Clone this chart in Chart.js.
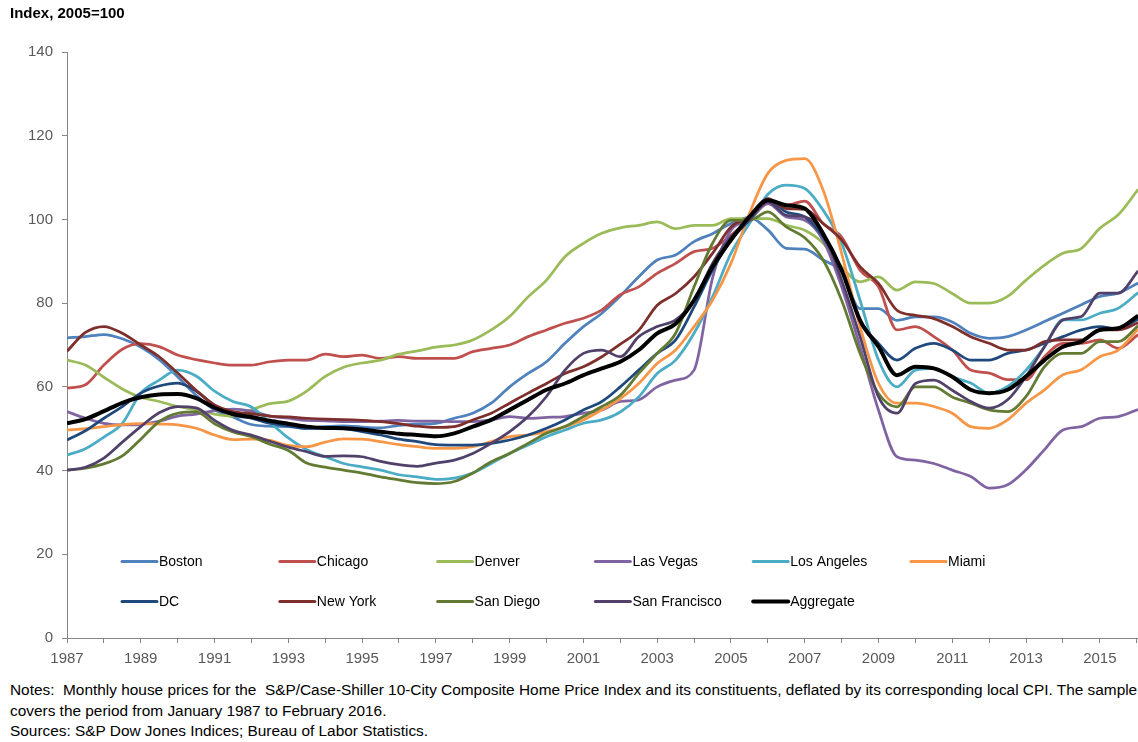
<!DOCTYPE html>
<html>
<head>
<meta charset="utf-8">
<script src="https://cdn.jsdelivr.net/npm/chart.js@4.4.1/dist/chart.umd.min.js"></script>
<style>
  html, body { margin: 0; padding: 0; background: #fff; overflow: hidden; }
  body { width: 1138px; height: 742px; position: relative; font-family: "Liberation Sans", Arial, sans-serif; }
  #wrap { position: absolute; left: 0; top: 0; width: 1138px; height: 680px; }
  #title { position: absolute; left: 10px; top: 4px; font-size: 15px; font-weight: bold; color: #000; }
  #notes { position: absolute; left: 10px; top: 680px; font-size: 15.4px; line-height: 20.5px; color: #000; white-space: nowrap; }
</style>
</head>
<body>
<div id="wrap"><canvas id="chart"></canvas></div>
<div id="title">Index, 2005=100</div>
<div id="notes">
  <div>Notes:&nbsp; Monthly house prices for the&nbsp; S&amp;P/Case-Shiller 10-City Composite Home Price Index and its constituents, deflated by its corresponding local CPI. The sample</div>
  <div>covers the period from January 1987 to February 2016.</div>
  <div>Sources: S&amp;P Dow Jones Indices; Bureau of Labor Statistics.</div>
</div>
<script>
// --- Dados (amostras semestrais) ---
const dates = [1987, 1987.5, 1988, 1988.5, 1989, 1989.5, 1990, 1990.5, 1991, 1991.5,
  1992, 1992.5, 1993, 1993.5, 1994, 1994.5, 1995, 1995.5, 1996, 1996.5,
  1997, 1997.5, 1998, 1998.5, 1999, 1999.5, 2000, 2000.5, 2001, 2001.5,
  2002, 2002.5, 2003, 2003.5, 2004, 2004.5, 2005, 2005.5, 2006, 2006.5,
  2007, 2007.5, 2008, 2008.5, 2009, 2009.5, 2010, 2010.5, 2011, 2011.5,
  2012, 2012.5, 2013, 2013.5, 2014, 2014.5, 2015, 2015.5, 2016.04];

const boston = [71.7, 72.0, 72.5, 71.5, 69.5, 66.5, 62.4, 58.0, 54.5, 52.8,
  51.0, 50.6, 50.5, 50.1, 50.5, 50.7, 50.4, 50.2, 50.8, 51.1,
  51.3, 52.5, 53.7, 56.1, 60.0, 63.2, 66.0, 70.4, 74.4, 77.6,
  81.7, 86.3, 90.3, 91.5, 94.7, 96.6, 99.0, 100.5, 97.5, 93.1,
  92.9, 90.3, 87.5, 78.7, 78.7, 75.9, 76.7, 76.7, 75.5, 72.8,
  71.6, 72.0, 73.6, 75.6, 77.6, 79.6, 81.6, 82.4, 84.8];
const chicago = [59.7, 60.5, 65.2, 69.0, 70.3, 69.6, 67.6, 66.5, 65.7, 65.2,
  65.2, 66.0, 66.4, 66.4, 67.8, 67.2, 67.6, 66.8, 67.2, 66.8,
  66.8, 66.8, 68.4, 69.2, 70.0, 72.0, 73.6, 75.2, 76.4, 78.4,
  82.0, 83.9, 87.1, 89.5, 92.3, 93.1, 96.2, 100.2, 103.8, 103.4,
  104.4, 99.0, 95.8, 87.9, 83.9, 73.6, 74.4, 72.0, 68.8, 64.0,
  63.3, 61.7, 61.7, 67.2, 70.4, 70.4, 71.2, 69.2, 72.5];
const denver = [66.4, 65.2, 62.3, 59.5, 57.5, 56.5, 55.3, 54.5, 53.5, 53.0,
  54.5, 56.0, 56.6, 59.0, 62.5, 64.7, 65.7, 66.4, 67.8, 68.6,
  69.5, 70.0, 71.2, 73.6, 76.8, 81.5, 85.5, 91.1, 94.3, 96.7,
  98.0, 98.6, 99.4, 97.8, 98.6, 98.6, 100.2, 100.2, 100.2, 98.6,
  97.4, 94.3, 88.7, 85.1, 86.3, 83.1, 85.1, 84.7, 82.3, 80.0,
  80.0, 81.6, 85.5, 89.1, 91.9, 93.1, 97.9, 101.1, 107.2];
const lasVegas = [54.1, 52.5, 51.3, 50.9, 51.0, 51.8, 53.0, 53.5, 54.3, 54.7,
  54.2, 53.0, 52.5, 52.0, 51.9, 51.7, 51.7, 51.8, 52.0, 51.8,
  51.8, 51.7, 51.7, 52.1, 52.9, 52.5, 52.7, 52.9, 53.7, 54.5,
  56.5, 56.9, 60.0, 61.6, 64.0, 86.0, 97.4, 99.8, 103.8, 100.6,
  99.8, 95.0, 83.9, 69.6, 54.4, 43.3, 42.5, 41.7, 40.1, 38.6,
  35.8, 36.6, 40.2, 45.0, 49.7, 50.5, 52.5, 52.9, 54.6];
const losAngeles = [43.7, 45.2, 48.0, 51.3, 58.5, 61.6, 64.0, 62.6, 59.0, 56.5,
  55.2, 51.5, 47.8, 45.0, 43.3, 41.7, 40.9, 40.1, 39.0, 38.5,
  37.9, 38.2, 39.4, 41.7, 44.1, 46.1, 48.1, 49.7, 51.3, 52.1,
  54.0, 57.6, 63.2, 66.4, 72.8, 81.5, 91.9, 99.0, 106.0, 108.2,
  107.4, 102.2, 94.3, 80.7, 66.4, 60.0, 64.0, 64.4, 62.4, 60.9,
  58.5, 60.1, 64.0, 69.6, 76.0, 76.0, 77.6, 78.8, 82.5];
const miami = [49.7, 50.0, 50.5, 51.0, 51.2, 51.1, 50.9, 50.1, 48.5, 47.4,
  47.5, 47.2, 46.0, 45.7, 46.8, 47.6, 47.5, 46.9, 46.2, 45.7,
  45.3, 45.3, 45.7, 46.9, 48.1, 48.5, 49.3, 50.5, 52.1, 54.5,
  57.2, 60.8, 65.6, 68.8, 74.4, 80.7, 89.5, 101.4, 111.0, 114.1,
  114.5, 107.0, 91.9, 74.4, 60.8, 56.1, 56.1, 55.3, 53.7, 50.5,
  50.1, 52.1, 56.1, 59.3, 62.9, 64.1, 67.2, 68.8, 73.8];
const dc = [47.3, 49.5, 52.5, 55.3, 58.5, 60.2, 60.9, 59.0, 55.5, 53.3,
  52.5, 51.3, 50.7, 50.1, 50.1, 50.0, 49.3, 48.5, 47.5, 46.9,
  46.2, 46.1, 46.1, 46.5, 47.3, 48.5, 50.1, 52.1, 54.5, 56.5,
  60.0, 64.0, 68.0, 71.2, 79.1, 87.9, 95.1, 99.8, 104.6, 101.8,
  100.6, 95.8, 87.9, 75.9, 70.4, 66.4, 69.2, 70.4, 68.8, 66.4,
  66.4, 68.0, 68.8, 70.4, 72.0, 73.6, 74.4, 73.8, 76.2];
const newYork = [68.5, 73.0, 74.4, 72.8, 70.0, 67.2, 63.3, 59.2, 55.7, 54.1,
  53.6, 53.0, 52.8, 52.5, 52.3, 52.2, 52.0, 51.7, 51.2, 50.6,
  50.3, 50.5, 52.1, 53.7, 56.1, 58.5, 60.8, 63.2, 64.8, 67.2,
  70.2, 73.5, 79.5, 82.3, 86.3, 91.9, 98.2, 100.6, 105.0, 102.6,
  102.4, 99.0, 95.1, 88.7, 84.7, 78.3, 77.1, 76.3, 74.4, 72.0,
  70.4, 68.8, 68.8, 70.8, 71.2, 71.2, 73.6, 73.6, 75.3];
const sanDiego = [40.1, 40.6, 41.6, 43.5, 47.5, 51.7, 53.7, 54.0, 51.2, 49.2,
  48.1, 46.3, 44.8, 41.8, 40.8, 40.1, 39.4, 38.5, 37.8, 37.1,
  36.9, 37.4, 39.4, 42.1, 44.1, 46.5, 48.9, 50.5, 52.9, 55.3,
  58.0, 63.2, 68.0, 72.8, 83.9, 94.3, 99.8, 99.8, 101.8, 98.2,
  95.6, 90.3, 80.7, 68.0, 58.4, 55.2, 60.0, 60.0, 57.6, 56.1,
  54.5, 54.1, 57.7, 64.8, 68.0, 68.0, 70.8, 70.8, 74.6];
const sanFrancisco = [40.1, 40.8, 43.0, 46.8, 50.5, 53.8, 55.3, 55.0, 52.0, 49.6,
  48.5, 47.0, 45.6, 44.5, 43.4, 43.5, 43.3, 42.2, 41.4, 41.0,
  41.8, 42.5, 44.1, 46.5, 49.3, 52.9, 57.7, 64.0, 68.0, 68.8,
  67.2, 72.0, 74.4, 76.0, 80.7, 89.5, 95.8, 99.8, 104.2, 101.0,
  100.6, 96.6, 85.5, 72.0, 57.6, 53.7, 60.8, 61.6, 59.2, 56.5,
  54.9, 56.9, 62.5, 69.6, 76.0, 76.8, 82.4, 82.4, 87.7];
const aggregate = [51.3, 52.3, 54.2, 56.2, 57.5, 58.2, 58.3, 57.3, 55.0, 53.5,
  52.8, 51.9, 51.2, 50.5, 50.2, 50.1, 49.8, 49.3, 48.8, 48.5,
  48.2, 48.9, 50.5, 52.1, 54.5, 56.9, 59.3, 60.8, 62.8, 64.4,
  66.0, 68.8, 72.8, 75.1, 80.7, 88.7, 95.1, 100.6, 104.6, 103.4,
  102.6, 96.6, 87.9, 75.9, 69.6, 62.8, 64.8, 64.4, 62.4, 59.3,
  58.5, 59.3, 62.5, 66.4, 69.6, 70.8, 73.6, 74.0, 77.0];

const seriesNames = ['Boston', 'Chicago', 'Denver', 'Las Vegas', 'Los Angeles', 'Miami',
  'DC', 'New York', 'San Diego', 'San Francisco', 'Aggregate'];
const seriesValues = [boston, chicago, denver, lasVegas, losAngeles, miami,
  dc, newYork, sanDiego, sanFrancisco, aggregate];
const seriesColors = ['#4F81BD', '#C0504D', '#9BBB59', '#8064A2', '#4BACC6', '#F79646',
  '#1F497D', '#7E2E2B', '#627A31', '#514069', '#000000'];

const yTicks = [0, 20, 40, 60, 80, 100, 120, 140];

// --- Legenda desenhada dentro da área do gráfico ---
const insideLegend = {
  id: 'insideLegend',
  afterDraw(chart) {
    const c = chart.ctx;
    c.save();
    c.font = '14px "Liberation Sans", Arial, sans-serif';
    c.textBaseline = 'middle';
    c.fillStyle = '#000';
    chart.data.datasets.forEach((ds, i) => {
      const col = i % 6;
      const row = Math.floor(i / 6);
      const x = 122 + col * 157.8;
      const y = 561.5 + row * 40;
      c.strokeStyle = ds.borderColor;
      c.lineWidth = i === 10 ? 4 : 3;
      c.lineCap = 'round';
      c.beginPath();
      c.moveTo(x, y);
      c.lineTo(x + 35, y);
      c.stroke();
      c.fillText(ds.label, x + 37, y + 1);
    });
    c.restore();
  }
};

const datasets = seriesNames.map((name, i) => ({
  label: name,
  data: seriesValues[i].map((v, k) => ({ x: dates[k], y: v })),
  borderColor: seriesColors[i],
  backgroundColor: seriesColors[i],
  borderWidth: i === 10 ? 4 : 2.75,
  pointRadius: 0,
  cubicInterpolationMode: 'monotone',
  order: -i
}));

const axisFont = { family: '"Liberation Sans", Arial, sans-serif', size: 15 };

new Chart(document.getElementById('chart'), {
  type: 'line',
  data: { datasets },
  options: {
    responsive: true,
    maintainAspectRatio: false,
    animation: false,
    layout: { padding: { top: 52, right: 0, left: 0, bottom: 0 } },
    plugins: { legend: { display: false }, tooltip: { enabled: false } },
    scales: {
      x: {
        type: 'linear',
        min: 1987,
        max: 2016.035,
        afterFit: (s) => { s.height = 42; s.paddingLeft = 0; s.paddingRight = 0; },
        afterBuildTicks: (s) => {
          const t = [];
          for (let yr = 1987; yr <= 2016; yr++) t.push({ value: yr });
          s.ticks = t;
        },
        grid: { drawOnChartArea: false, tickLength: 5, color: '#868686' },
        border: { color: '#868686' },
        ticks: {
          autoSkip: false,
          maxRotation: 0,
          padding: 7,
          color: '#595959',
          font: axisFont,
          callback: (v) => ((v - 1987) % 2 === 0 && v < 2016) ? String(v) : ''
        }
      },
      y: {
        min: 0,
        max: 140,
        afterFit: (s) => { s.width = 67; },
        afterBuildTicks: (s) => { s.ticks = yTicks.map(v => ({ value: v })); },
        grid: { drawOnChartArea: false, tickLength: 5, color: '#868686' },
        border: { color: '#868686' },
        ticks: { padding: 9, color: '#595959', font: axisFont }
      }
    }
  },
  plugins: [insideLegend]
});
</script>
</body>
</html>
